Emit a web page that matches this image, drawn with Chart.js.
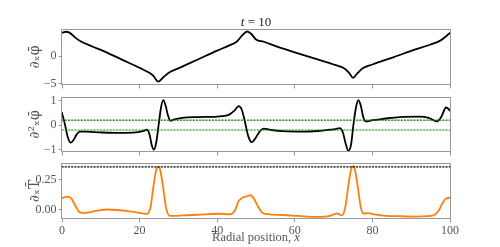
<!DOCTYPE html>
<html>
<head>
<meta charset="utf-8">
<script src="https://cdn.jsdelivr.net/npm/chart.js@4.4.1/dist/chart.umd.min.js"></script>
<style>
  html, body { margin: 0; padding: 0; background: #fff; }
  #wrap { position: relative; width: 500px; height: 247px; }
  #wrap canvas { position: absolute; left: 0; top: 0; }
</style>
</head>
<body>
<div id="wrap">
  <canvas id="chart-phi" width="500" height="247"></canvas>
  <canvas id="chart-curv" width="500" height="247"></canvas>
  <canvas id="chart-temp" width="500" height="247"></canvas>
</div>
<script>
// Datos
const xTicks = [0, 20, 40, 60, 80, 100];

const phiX = [0, 1, 2, 3.5, 5, 8, 12, 16, 20, 22, 23.5, 24.8, 26, 27.5, 30, 35, 40, 43, 45, 46.5, 47.7, 48.8, 50, 52, 56, 60, 65, 70, 72.5, 74, 75, 76, 77.5, 80, 85, 90, 95, 97.5, 99, 100];
const phiY = [4.2, 4.4, 4.2, 3.3, 2.6, 1.7, 0.5, -0.8, -2.1, -2.8, -3.5, -4.6, -3.9, -3.0, -2.2, -0.6, 1.0, 1.9, 2.6, 3.8, 4.45, 4.0, 3.0, 2.6, 1.6, 0.7, -0.4, -1.5, -2.1, -3.0, -3.9, -3.2, -2.2, -1.5, -0.3, 0.95, 2.1, 2.8, 3.6, 4.2];
const phiTicks = [-5, 0];
const phiRange = [-5.2, 4.9];

const curvX = [0, 0.8, 1.5, 2.2, 3.0, 3.8, 4.6, 6, 10, 15, 19, 21, 21.8, 22.6, 23.1, 23.7, 24.3, 24.9, 25.5, 26.1, 26.7, 27.3, 28, 29, 31, 35, 40, 43, 44.5, 45.5, 46.3, 47.2, 48, 48.9, 49.8, 51, 52, 54, 57, 62, 66, 69, 70.5, 71.6, 72.4, 73.1, 73.8, 74.5, 75.1, 75.8, 76.4, 77, 77.6, 78.3, 80, 83, 87, 92, 94.5, 96.6, 97.8, 99, 100];
const curvY = [0.5, 0.0, -0.5, -0.72, -0.6, -0.38, -0.27, -0.27, -0.3, -0.32, -0.3, -0.24, -0.19, -0.4, -0.8, -1.0, -0.7, 0.0, 0.7, 1.02, 0.8, 0.4, 0.17, 0.24, 0.3, 0.33, 0.35, 0.42, 0.6, 0.78, 0.65, 0.1, -0.45, -0.7, -0.55, -0.25, -0.14, -0.2, -0.25, -0.27, -0.24, -0.19, -0.16, -0.12, -0.3, -0.75, -1.05, -0.8, 0.0, 0.75, 1.02, 0.8, 0.35, 0.15, 0.2, 0.26, 0.33, 0.35, 0.3, 0.15, 0.35, 0.72, 0.6];
const curvBand = [-0.2, 0.2];
const curvTicks = [-1, 0, 1];
const curvRange = [-1.1, 1.15];

const tempX = [0, 0.8, 1.6, 2.5, 3.5, 4.6, 6, 8.5, 11.5, 15, 18, 21, 21.8, 22.8, 23.6, 24.3, 24.8, 25.3, 26, 26.8, 27.8, 29, 31.2, 35, 40, 43.3, 44.5, 45.5, 46.5, 48, 48.6, 49.5, 50.5, 51.5, 53, 57, 61, 65.6, 69, 70.2, 70.9, 71.6, 72.2, 73, 73.8, 74.5, 75, 75.5, 76.2, 77, 77.7, 79, 80, 82.8, 87, 91.4, 94, 96.1, 97, 98, 99.1, 100];
const tempY = [0.097, 0.105, 0.108, 0.09, 0.03, -0.02, -0.025, -0.01, 0.003, -0.003, -0.015, -0.03, -0.033, 0.02, 0.2, 0.33, 0.356, 0.33, 0.2, 0.02, -0.05, -0.05, -0.045, -0.04, -0.032, -0.036, -0.01, 0.07, 0.1, 0.115, 0.12, 0.09, 0.03, -0.02, -0.035, -0.042, -0.05, -0.058, -0.05, -0.035, -0.028, -0.04, -0.045, 0.02, 0.2, 0.33, 0.36, 0.33, 0.2, 0.02, -0.03, -0.027, -0.035, -0.047, -0.052, -0.055, -0.052, -0.04, -0.01, 0.05, 0.095, 0.1];
const tempMax = 0.353;
const tempTicks = [0, 0.25];
const tempRange = [-0.075, 0.385];

// Layout
const W = 500, H = 247, LEFT = 62, RIGHT = 450;
const serif = '"Liberation Serif", "DejaVu Serif", serif';
const mathFont = '"DejaVu Serif", serif';
const frameColor = '#999';
const textColor = '#555';

const toPoints = (xs, ys) => xs.map((x, i) => ({ x, y: ys[i] }));
const hline = y => toPoints([xTicks[0], xTicks[xTicks.length - 1]], [y, y]);
const minus = v => String(v).replace('-', '\u2212');

const frame = {
  id: 'frame',
  afterDraw(chart) {
    const { ctx, chartArea: a } = chart;
    ctx.save();
    ctx.strokeStyle = frameColor;
    ctx.lineWidth = 1;
    const l = Math.round(a.left) - 0.5, t = Math.round(a.top) + 0.5;
    ctx.strokeRect(l, t, Math.round(a.right) - Math.round(a.left) + 1, Math.round(a.bottom) - Math.round(a.top) - 1);
    ctx.restore();
  }
};

// Texto con partes en cursiva (t, x)
const mathText = {
  id: 'mathText',
  afterDraw(chart, args, opts) {
    if (!opts.items) return;
    const { ctx, chartArea: a } = chart;
    ctx.save();
    ctx.textBaseline = 'middle';
    ctx.textAlign = 'left';
    opts.items.forEach(item => {
      const fontOf = it => `${it ? 'italic ' : ''}${item.size}px ${serif}`;
      let w = 0;
      item.parts.forEach(([s, it]) => { ctx.font = fontOf(it); w += ctx.measureText(s).width; });
      let x = (a.left + a.right) / 2 - w / 2;
      const y = item.from === 'top' ? a.top + item.dy : a.bottom + item.dy;
      ctx.fillStyle = item.color;
      item.parts.forEach(([s, it]) => {
        ctx.font = fontOf(it);
        ctx.fillText(s, x, y);
        x += ctx.measureText(s).width;
      });
    });
    ctx.restore();
  }
};

function makePanel(id, cfg) {
  return new Chart(document.getElementById(id), {
    type: 'line',
    data: { datasets: cfg.datasets },
    options: {
      responsive: false,
      animation: false,
      devicePixelRatio: 1,
      layout: { padding: { top: cfg.top, left: 0, right: W - RIGHT, bottom: 0 } },
      plugins: {
        legend: { display: false },
        tooltip: { enabled: false },
        mathText: { items: cfg.texts }
      },
      elements: {
        point: { radius: 0 },
        line: { cubicInterpolationMode: 'monotone', borderCapStyle: 'round', borderJoinStyle: 'round' }
      },
      scales: {
        x: {
          type: 'linear',
          min: xTicks[0],
          max: xTicks[xTicks.length - 1],
          afterBuildTicks: s => { s.ticks = xTicks.map(v => ({ value: v })); },
          afterFit: s => { s.height = H - cfg.bottom; },
          grid: { drawOnChartArea: false, color: frameColor, tickLength: 3.5 },
          border: { display: false },
          ticks: { display: cfg.xLabels, font: { family: serif, size: 12 }, color: textColor, padding: 1, maxRotation: 0 }
        },
        y: {
          min: cfg.range[0],
          max: cfg.range[1],
          afterBuildTicks: s => { s.ticks = cfg.ticks.map(v => ({ value: v })); },
          afterFit: s => { s.width = LEFT; },
          grid: { drawOnChartArea: false, color: frameColor, tickLength: 3.5 },
          border: { display: false },
          ticks: { font: { family: serif, size: 12 }, color: textColor, padding: 2, callback: cfg.fmt },
          title: { display: true, text: cfg.label, font: { family: mathFont, size: 14 }, color: textColor, padding: { top: 27 } }
        }
      }
    },
    plugins: [frame, mathText]
  });
}

makePanel('chart-phi', {
  top: 29, bottom: 85, range: phiRange, ticks: phiTicks, fmt: minus, xLabels: false,
  label: '\u2202\u2093\u03C6\u0304',
  texts: [{ parts: [['t', true], [' = 10', false]], size: 13, color: '#222', from: 'top', dy: -6.5 }],
  datasets: [{ data: toPoints(phiX, phiY), borderColor: '#000', borderWidth: 1.8 }]
});

makePanel('chart-curv', {
  top: 97, bottom: 152, range: curvRange, ticks: curvTicks, fmt: minus, xLabels: false,
  label: '\u2202\u00B2\u2093\u03C6\u0304',
  datasets: [
    ...curvBand.map(v => ({ data: hline(v), borderColor: 'green', borderWidth: 1.2, borderDash: [1.2, 2] })),
    { data: toPoints(curvX, curvY), borderColor: '#000', borderWidth: 1.8 }
  ]
});

makePanel('chart-temp', {
  top: 163, bottom: 219, range: tempRange, ticks: tempTicks, fmt: v => v.toFixed(2), xLabels: true,
  label: '\u2202\u2093T\u0304',
  texts: [{ parts: [['Radial position, ', false], ['x', true]], size: 12.5, color: textColor, from: 'bottom', dy: 18.5 }],
  datasets: [
    { data: hline(tempMax), borderColor: '#000', borderWidth: 1.2, borderDash: [1.2, 2] },
    { data: toPoints(tempX, tempY), borderColor: '#ff7f0e', borderWidth: 1.8 }
  ]
});
</script>
</body>
</html>
